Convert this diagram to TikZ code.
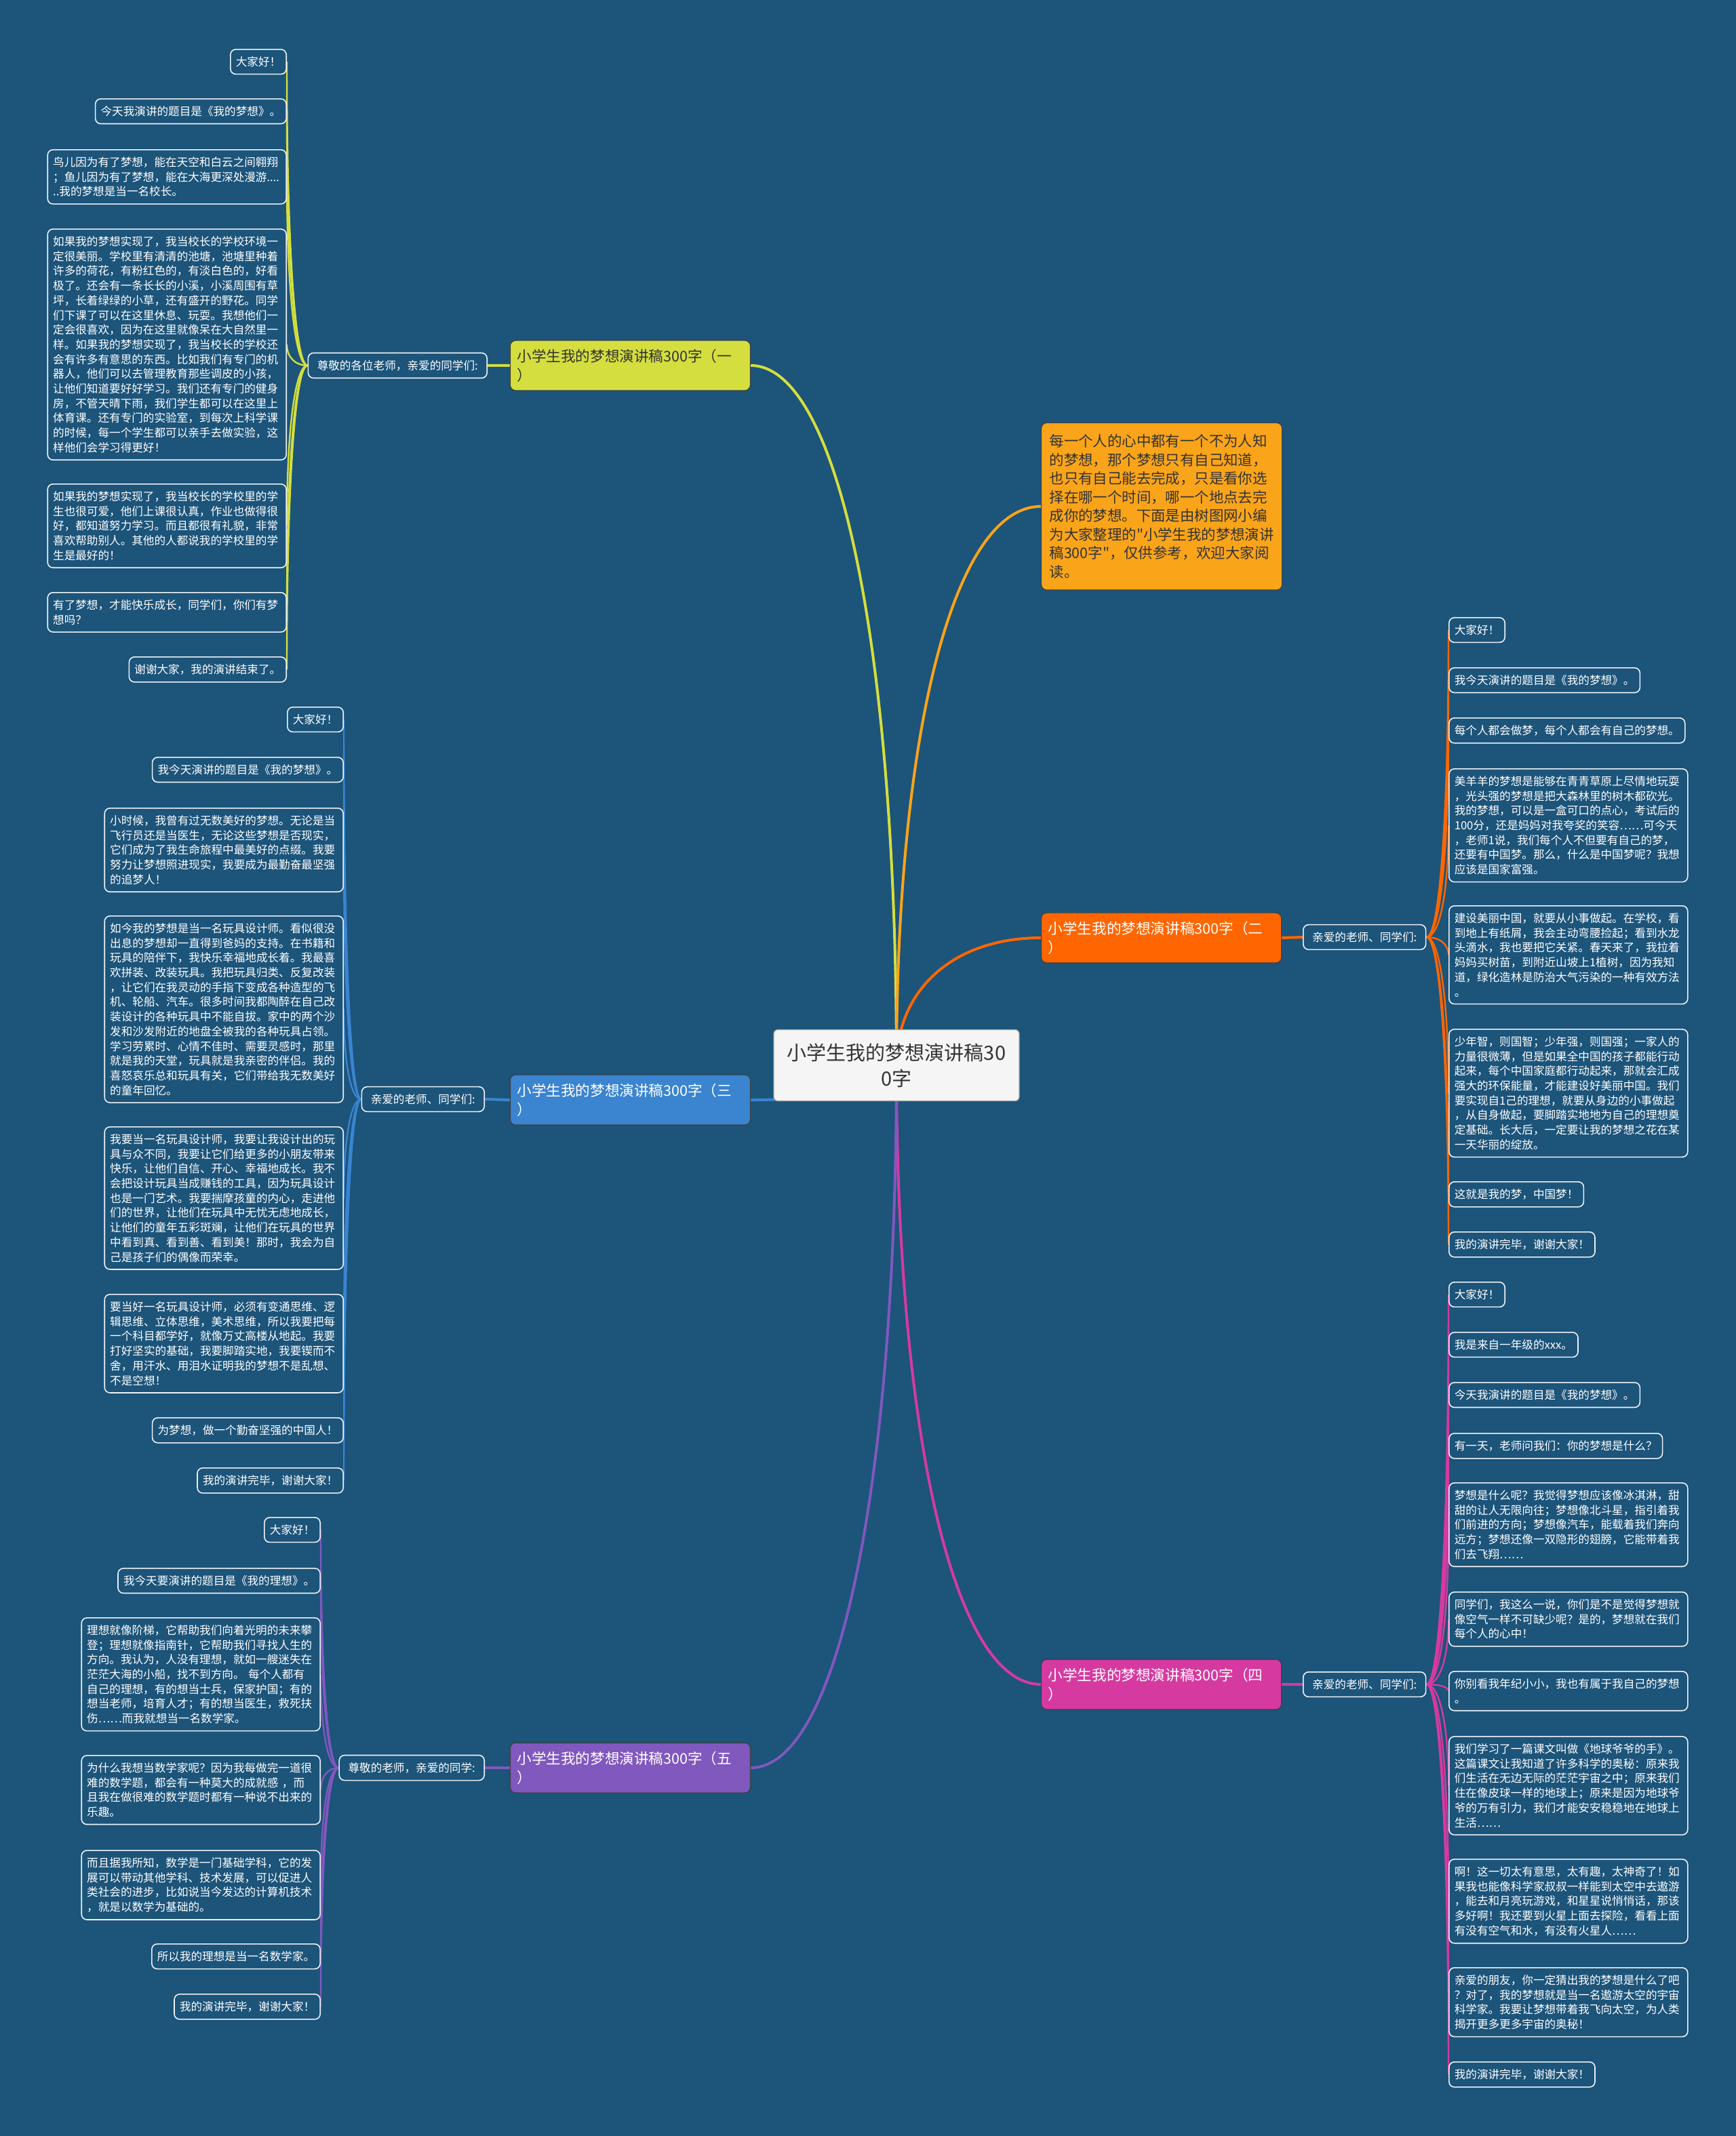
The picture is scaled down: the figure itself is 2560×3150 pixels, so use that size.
\documentclass[tikz,border=0pt]{standalone}
\usepackage{fontspec}
\setmainfont{Noto Sans CJK SC}[Ligatures=TeXOff]
\usepackage{tikz}
\usetikzlibrary{calc,backgrounds}
\definecolor{mapbg}{RGB}{28,84,122}
\definecolor{br1}{RGB}{212,222,62}
\definecolor{br2}{RGB}{255,102,0}
\definecolor{br3}{RGB}{58,132,208}
\definecolor{br4}{RGB}{214,58,160}
\definecolor{br5}{RGB}{128,88,190}
\definecolor{brintro}{RGB}{250,164,26}
\newcommand{\mapleaffont}{\fontsize{8.3pt}{10.85pt}\selectfont}
\newcommand{\maptopicfont}{\fontsize{10.8pt}{14pt}\selectfont}
\newcommand{\mapintrofont}{\fontsize{10.7pt}{13.75pt}\selectfont}
\newcommand{\maprootfont}{\fontsize{14.5pt}{19pt}\selectfont}
\tikzset{
  map/root/.style={draw=black!35, fill=black!4, rounded corners=3pt, line width=0.6pt, text=black!80, font=\maprootfont, align=center, minimum width=181pt, minimum height=52.5pt, inner sep=2pt},
  map/topic/.style={draw=black!75, rounded corners=4pt, line width=0.6pt, font=\maptopicfont, text width=167pt, align=left, inner xsep=5pt, inner ysep=6.3pt},
  map/intro/.style={map/topic, fill=brintro, text=black!80, font=\mapintrofont, text width=165.5pt, inner xsep=6pt, inner ysep=8.5pt},
  map/sub/.style={draw=white!92!mapbg, fill=mapbg, text=white, rounded corners=4pt, line width=0.8pt, font=\mapleaffont, inner xsep=6.7pt, inner ysep=5.3pt},
  map/leaf/.style={map/sub, inner xsep=4pt},
  map/para/.style={map/leaf, text width=168pt, align=left},
  map/trunk/.style={line width=2pt},
  map/twig/.style={line width=1.2pt}
}
% root -> topic: leaves vertically, arrives horizontally
\newcommand{\maptrunk}[3]{\draw[map/trunk,#1] (#2) .. controls ($(#2)!0.6!(#2 |- #3)$) and ($(#3)!0.6!(#2 |- #3)$) .. (#3);}
% sub label -> leaf: leaves horizontally, arrives vertically
\newcommand{\maptwig}[3]{\draw[map/twig,#1] (#2) .. controls ($(#2)!0.6!(#3 |- #2)$) and ($(#3)!0.6!(#3 |- #2)$) .. (#3);}

\begin{document}
\begin{tikzpicture}[x=0.5pt, y=-0.5pt]
  \useasboundingbox (0,0) rectangle (2560,3150);

  % centre and main topics
  \node[map/root] (root) at (1322,1571) {小学生我的梦想演讲稿30\\0字};
  \node[map/intro, anchor=north west] (intro) at (1535,623) {每一个人的心中都有一个不为人知\\的梦想，那个梦想只有自己知道，\\也只有自己能去完成，只是看你选\\择在哪一个时间，哪一个地点去完\\成你的梦想。下面是由树图网小编\\为大家整理的"小学生我的梦想演讲\\稿300字"，仅供参考，欢迎大家阅\\读。};
  \node[map/topic, fill=br1, text=black!80, anchor=east] (b1) at (1107,539) {小学生我的梦想演讲稿300字（一\\）};
  \node[map/topic, fill=br2, text=white, anchor=west] (b2) at (1535,1383) {小学生我的梦想演讲稿300字（二\\）};
  \node[map/topic, fill=br3, text=white, anchor=east] (b3) at (1107,1622) {小学生我的梦想演讲稿300字（三\\）};
  \node[map/topic, fill=br4, text=white, anchor=west] (b4) at (1535,2484) {小学生我的梦想演讲稿300字（四\\）};
  \node[map/topic, fill=br5, text=white, anchor=east] (b5) at (1107,2607) {小学生我的梦想演讲稿300字（五\\）};

  % greetings
  \node[map/sub, anchor=east] (s1) at (719,539) {尊敬的各位老师，亲爱的同学们:};
  \node[map/sub, anchor=west] (s2) at (1921,1382) {亲爱的老师、同学们:};
  \node[map/sub, anchor=east] (s3) at (715,1621) {亲爱的老师、同学们:};
  \node[map/sub, anchor=west] (s4) at (1921,2484) {亲爱的老师、同学们:};
  \node[map/sub, anchor=east] (s5) at (715,2607) {尊敬的老师，亲爱的同学:};

  % branch one
  \node[map/leaf, anchor=north east] (l1-1) at (423,72) {大家好！};
  \node[map/leaf, anchor=north east] (l1-2) at (423,145) {今天我演讲的题目是《我的梦想》。};
  \node[map/para, anchor=north east] (l1-3) at (423,220) {鸟儿因为有了梦想，能在天空和白云之间翱翔\\；鱼儿因为有了梦想，能在大海更深处漫游....\\..我的梦想是当一名校长。};
  \node[map/para, anchor=north east] (l1-4) at (423,337) {如果我的梦想实现了，我当校长的学校环境一\\定很美丽。学校里有清清的池塘，池塘里种着\\许多的荷花，有粉红色的，有淡白色的，好看\\极了。还会有一条长长的小溪，小溪周围有草\\坪，长着绿绿的小草，还有盛开的野花。同学\\们下课了可以在这里休息、玩耍。我想他们一\\定会很喜欢，因为在这里就像呆在大自然里一\\样。如果我的梦想实现了，我当校长的学校还\\会有许多有意思的东西。比如我们有专门的机\\器人，他们可以去管理教育那些调皮的小孩，\\让他们知道要好好学习。我们还有专门的健身\\房，不管天晴下雨，我们学生都可以在这里上\\体育课。还有专门的实验室，到每次上科学课\\的时候，每一个学生都可以亲手去做实验，这\\样他们会学习得更好！};
  \node[map/para, anchor=north east] (l1-5) at (423,713) {如果我的梦想实现了，我当校长的学校里的学\\生也很可爱，他们上课很认真，作业也做得很\\好，都知道努力学习。而且都很有礼貌，非常\\喜欢帮助别人。其他的人都说我的学校里的学\\生是最好的！};
  \node[map/para, anchor=north east] (l1-6) at (423,873) {有了梦想，才能快乐成长，同学们，你们有梦\\想吗？};
  \node[map/leaf, anchor=north east] (l1-7) at (423,968) {谢谢大家，我的演讲结束了。};

  % branch three
  \node[map/leaf, anchor=north east] (l3-1) at (507,1042) {大家好！};
  \node[map/leaf, anchor=north east] (l3-2) at (507,1116) {我今天演讲的题目是《我的梦想》。};
  \node[map/para, anchor=north east] (l3-3) at (507,1191) {小时候，我曾有过无数美好的梦想。无论是当\\飞行员还是当医生，无论这些梦想是否现实，\\它们成为了我生命旅程中最美好的点缀。我要\\努力让梦想照进现实，我要成为最勤奋最坚强\\的追梦人！};
  \node[map/para, anchor=north east] (l3-4) at (507,1350) {如今我的梦想是当一名玩具设计师。看似很没\\出息的梦想却一直得到爸妈的支持。在书籍和\\玩具的陪伴下，我快乐幸福地成长着。我最喜\\欢拼装、改装玩具。我把玩具归类、反复改装\\，让它们在我灵动的手指下变成各种造型的飞\\机、轮船、汽车。很多时间我都陶醉在自己改\\装设计的各种玩具中不能自拔。家中的两个沙\\发和沙发附近的地盘全被我的各种玩具占领。\\学习劳累时、心情不佳时、需要灵感时，那里\\就是我的天堂，玩具就是我亲密的伴侣。我的\\喜怒哀乐总和玩具有关，它们带给我无数美好\\的童年回忆。};
  \node[map/para, anchor=north east] (l3-5) at (507,1661) {我要当一名玩具设计师，我要让我设计出的玩\\具与众不同，我要让它们给更多的小朋友带来\\快乐，让他们自信、开心、幸福地成长。我不\\会把设计玩具当成赚钱的工具，因为玩具设计\\也是一门艺术。我要揣摩孩童的内心，走进他\\们的世界，让他们在玩具中无忧无虑地成长，\\让他们的童年五彩斑斓，让他们在玩具的世界\\中看到真、看到善、看到美！那时，我会为自\\己是孩子们的偶像而荣幸。};
  \node[map/para, anchor=north east] (l3-6) at (507,1908) {要当好一名玩具设计师，必须有变通思维、逻\\辑思维、立体思维，美术思维，所以我要把每\\一个科目都学好，就像万丈高楼从地起。我要\\打好坚实的基础，我要脚踏实地，我要锲而不\\舍，用汗水、用泪水证明我的梦想不是乱想、\\不是空想！};
  \node[map/leaf, anchor=north east] (l3-7) at (507,2090) {为梦想，做一个勤奋坚强的中国人！};
  \node[map/leaf, anchor=north east] (l3-8) at (507,2164) {我的演讲完毕，谢谢大家！};

  % branch five
  \node[map/leaf, anchor=north east] (l5-1) at (473,2237) {大家好！};
  \node[map/leaf, anchor=north east] (l5-2) at (473,2312) {我今天要演讲的题目是《我的理想》。};
  \node[map/para, anchor=north east] (l5-3) at (473,2385) {理想就像阶梯，它帮助我们向着光明的未来攀\\登；理想就像指南针，它帮助我们寻找人生的\\方向。我认为，人没有理想，就如一艘迷失在\\茫茫大海的小船，找不到方向。 每个人都有\\自己的理想，有的想当士兵，保家护国；有的\\想当老师，培育人才；有的想当医生，救死扶\\伤……而我就想当一名数学家。};
  \node[map/para, anchor=north east] (l5-4) at (473,2588) {为什么我想当数学家呢？因为我每做完一道很\\难的数学题，都会有一种莫大的成就感 ，而\\且我在做很难的数学题时都有一种说不出来的\\乐趣。};
  \node[map/para, anchor=north east] (l5-5) at (473,2728) {而且据我所知，数学是一门基础学科，它的发\\展可以带动其他学科、技术发展，可以促进人\\类社会的进步，比如说当今发达的计算机技术\\，就是以数学为基础的。};
  \node[map/leaf, anchor=north east] (l5-6) at (473,2866) {所以我的理想是当一名数学家。};
  \node[map/leaf, anchor=north east] (l5-7) at (473,2940) {我的演讲完毕，谢谢大家！};

  % branch two
  \node[map/leaf, anchor=north west] (l2-1) at (2136,910) {大家好！};
  \node[map/leaf, anchor=north west] (l2-2) at (2136,984) {我今天演讲的题目是《我的梦想》。};
  \node[map/leaf, anchor=north west] (l2-3) at (2136,1058) {每个人都会做梦，每个人都会有自己的梦想。};
  \node[map/para, anchor=north west] (l2-4) at (2136,1133) {美羊羊的梦想是能够在青青草原上尽情地玩耍\\，光头强的梦想是把大森林里的树木都砍光。\\我的梦想，可以是一盒可口的点心，考试后的\\100分，还是妈妈对我夸奖的笑容……可今天\\，老师1说，我们每个人不但要有自己的梦，\\还要有中国梦。那么，什么是中国梦呢？我想\\应该是国家富强。};
  \node[map/para, anchor=north west] (l2-5) at (2136,1335) {建设美丽中国，就要从小事做起。在学校，看\\到地上有纸屑，我会主动弯腰捡起；看到水龙\\头滴水，我也要把它关紧。春天来了，我拉着\\妈妈买树苗，到附近山坡上1植树，因为我知\\道，绿化造林是防治大气污染的一种有效方法\\。};
  \node[map/para, anchor=north west] (l2-6) at (2136,1517) {少年智，则国智；少年强，则国强；一家人的\\力量很微薄，但是如果全中国的孩子都能行动\\起来，每个中国家庭都行动起来，那就会汇成\\强大的环保能量，才能建设好美丽中国。我们\\要实现自1己的理想，就要从身边的小事做起\\，从自身做起，要脚踏实地地为自己的理想奠\\定基础。长大后，一定要让我的梦想之花在某\\一天华丽的绽放。};
  \node[map/leaf, anchor=north west] (l2-7) at (2136,1742) {这就是我的梦，中国梦！};
  \node[map/leaf, anchor=north west] (l2-8) at (2136,1816) {我的演讲完毕，谢谢大家！};

  % branch four
  \node[map/leaf, anchor=north west] (l4-1) at (2136,1890) {大家好！};
  \node[map/leaf, anchor=north west] (l4-2) at (2136,1964) {我是来自一年级的xxx。};
  \node[map/leaf, anchor=north west] (l4-3) at (2136,2038) {今天我演讲的题目是《我的梦想》。};
  \node[map/leaf, anchor=north west] (l4-4) at (2136,2113) {有一天，老师问我们：你的梦想是什么？};
  \node[map/para, anchor=north west] (l4-5) at (2136,2186) {梦想是什么呢？我觉得梦想应该像冰淇淋，甜\\甜的让人无限向往；梦想像北斗星，指引着我\\们前进的方向；梦想像汽车，能载着我们奔向\\远方；梦想还像一双隐形的翅膀，它能带着我\\们去飞翔……};
  \node[map/para, anchor=north west] (l4-6) at (2136,2347) {同学们，我这么一说，你们是不是觉得梦想就\\像空气一样不可缺少呢？是的，梦想就在我们\\每个人的心中！};
  \node[map/para, anchor=north west] (l4-7) at (2136,2464) {你别看我年纪小小，我也有属于我自己的梦想\\。};
  \node[map/para, anchor=north west] (l4-8) at (2136,2560) {我们学习了一篇课文叫做《地球爷爷的手》。\\这篇课文让我知道了许多科学的奥秘：原来我\\们生活在无边无际的茫茫宇宙之中；原来我们\\住在像皮球一样的地球上；原来是因为地球爷\\爷的万有引力，我们才能安安稳稳地在地球上\\生活……};
  \node[map/para, anchor=north west] (l4-9) at (2136,2741) {啊！这一切太有意思，太有趣，太神奇了！如\\果我也能像科学家叔叔一样能到太空中去遨游\\，能去和月亮玩游戏，和星星说悄悄话，那该\\多好啊！我还要到火星上面去探险，看看上面\\有没有空气和水，有没有火星人……};
  \node[map/para, anchor=north west] (l4-10) at (2136,2901) {亲爱的朋友，你一定猜出我的梦想是什么了吧\\？对了，我的梦想就是当一名遨游太空的宇宙\\科学家。我要让梦想带着我飞向太空，为人类\\揭开更多更多宇宙的奥秘！};
  \node[map/leaf, anchor=north west] (l4-11) at (2136,3040) {我的演讲完毕，谢谢大家！};

  % connectors behind the boxes
  \begin{scope}[on background layer]
    \fill[mapbg] (0,0) rectangle (2560,3150);
    \maptrunk{br1}{root.center}{b1.east}
    \maptrunk{brintro}{root.center}{intro.west}
    \maptrunk{br2}{root.center}{b2.west}
    \maptrunk{br3}{root.center}{b3.east}
    \maptrunk{br4}{root.center}{b4.west}
    \maptrunk{br5}{root.center}{b5.east}
    \draw[map/trunk, br1] (b1.west) -- (s1.east);
    \draw[map/trunk, br2] (b2.east) -- (s2.west);
    \draw[map/trunk, br3] (b3.west) -- (s3.east);
    \draw[map/trunk, br4] (b4.east) -- (s4.west);
    \draw[map/trunk, br5] (b5.west) -- (s5.east);
    \foreach \i in {1,...,7} {\maptwig{br1}{s1.west}{l1-\i.east}}
    \foreach \i in {1,...,8} {\maptwig{br2}{s2.east}{l2-\i.west}}
    \foreach \i in {1,...,8} {\maptwig{br3}{s3.west}{l3-\i.east}}
    \foreach \i in {1,...,11} {\maptwig{br4}{s4.east}{l4-\i.west}}
    \foreach \i in {1,...,7} {\maptwig{br5}{s5.west}{l5-\i.east}}
  \end{scope}
\end{tikzpicture}
\end{document}
